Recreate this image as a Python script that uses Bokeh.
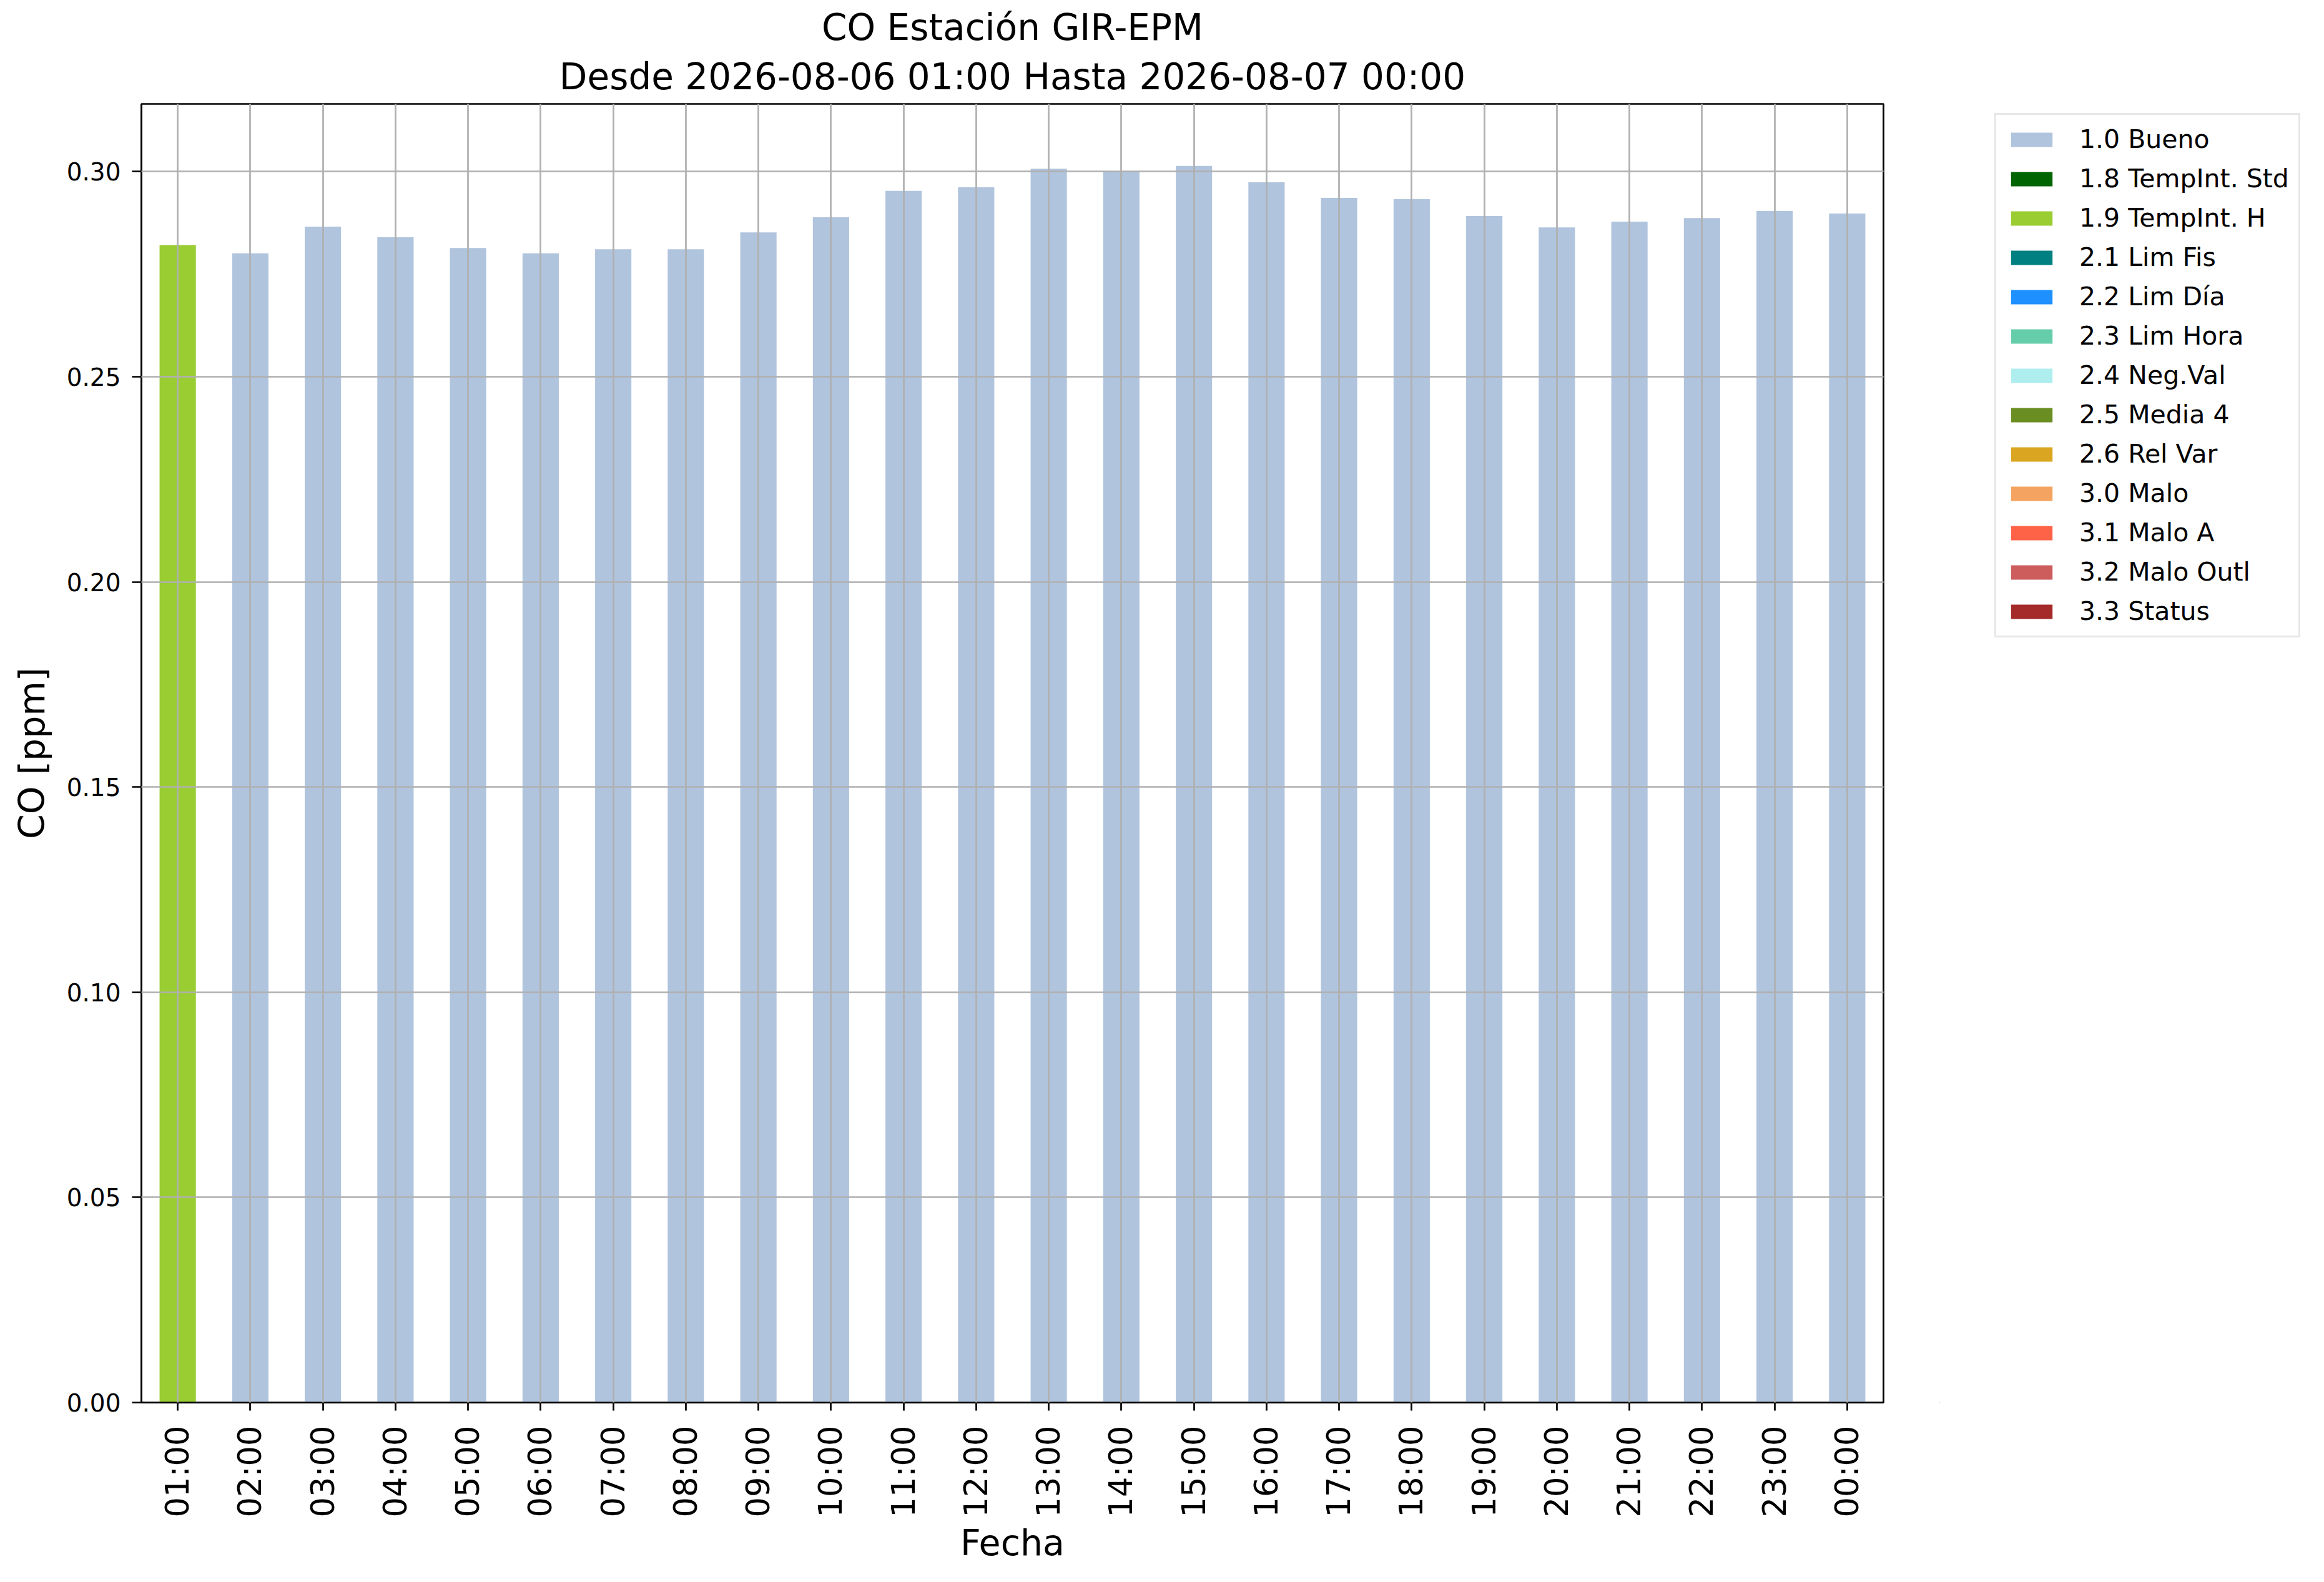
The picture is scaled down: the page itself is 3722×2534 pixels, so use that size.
from math import pi
from bokeh.plotting import figure
from bokeh.layouts import row
from bokeh.models import (FactorRange, Range1d, ColumnDataSource, Legend, LegendItem,
                          FixedTicker, PrintfTickFormatter, Title)
from bokeh.embed import file_html
from bokeh.resources import INLINE

# ---------------- data ----------------
hours = ["01:00", "02:00", "03:00", "04:00", "05:00", "06:00", "07:00", "08:00",
         "09:00", "10:00", "11:00", "12:00", "13:00", "14:00", "15:00", "16:00",
         "17:00", "18:00", "19:00", "20:00", "21:00", "22:00", "23:00", "00:00"]
co_ppm = [0.2821, 0.2801, 0.2866, 0.2840, 0.2814, 0.2801, 0.2811, 0.2811,
          0.2852, 0.2889, 0.2953, 0.2962, 0.3007, 0.3001, 0.3014, 0.2974,
          0.2936, 0.2933, 0.2892, 0.2864, 0.2878, 0.2887, 0.2904, 0.2898]
flags = ["1.9 TempInt. H"] + ["1.0 Bueno"] * 23

categories = ["1.0 Bueno", "1.8 TempInt. Std", "1.9 TempInt. H", "2.1 Lim Fis",
              "2.2 Lim Día", "2.3 Lim Hora", "2.4 Neg.Val", "2.5 Media 4",
              "2.6 Rel Var", "3.0 Malo", "3.1 Malo A", "3.2 Malo Outl", "3.3 Status"]
cat_colors = ["#b0c4de", "#006400", "#9acd32", "#008080", "#1e90ff", "#66cdaa",
              "#afeeee", "#6b8e23", "#daa520", "#f4a460", "#ff6347", "#cd5c5c", "#a52a2a"]
y_ticks = [0.0, 0.05, 0.10, 0.15, 0.20, 0.25, 0.30]

title_line1 = "CO Estación GIR-EPM"
title_line2 = "Desde 2026-08-06 01:00 Hasta 2026-08-07 00:00"

# ---------------- main figure ----------------
FONT = "DejaVu Sans"
H = 2518
W1, W2 = 3106, 600
ML, MR, MT, MB = 226, 90, 166, 272

p = figure(width=W1, height=H, x_range=FactorRange(factors=hours),
           y_range=Range1d(0, 0.3165), output_backend="svg", toolbar_location=None,
           min_border_left=ML, min_border_right=MR, min_border_top=MT, min_border_bottom=MB)
p.title.visible = False

for txt, so in ((title_line2, 19), (title_line1, 0)):
    t = Title(text=txt, align="center", text_font=FONT, text_font_size="58px",
              text_font_style="normal", text_color="black", standoff=so)
    p.add_layout(t, "above")

p.background_fill_color = "white"
p.border_fill_color = "white"
p.outline_line_color = "black"
p.outline_line_width = 2.7

for cat, col in zip(categories, cat_colors):
    xs = [h for h, f in zip(hours, flags) if f == cat]
    ys = [v for v, f in zip(co_ppm, flags) if f == cat]
    if not xs:
        continue
    src = ColumnDataSource(data=dict(x=xs, top=ys))
    p.vbar(x="x", top="top", bottom=0, width=0.5, source=src,
           fill_color=col, line_color=None)

for ax in (p.xaxis[0], p.yaxis[0]):
    ax.axis_line_color = "black"
    ax.axis_line_width = 2.7
    ax.major_tick_line_color = "black"
    ax.major_tick_line_width = 2.7
    ax.major_tick_in = 0
    ax.minor_tick_line_color = None
    ax.major_label_text_font = FONT
    ax.axis_label_text_font = FONT
    ax.axis_label_text_font_style = "normal"
    ax.axis_label_text_font_size = "57px"
    ax.major_label_text_color = "black"
    ax.axis_label_text_color = "black"

xa = p.xaxis[0]
xa.axis_label = "Fecha"
xa.major_label_orientation = pi / 2
xa.major_label_text_font_size = "51px"
xa.major_tick_out = 13
xa.major_label_standoff = 24
xa.axis_label_standoff = 5

ya = p.yaxis[0]
ya.axis_label = "CO [ppm]"
ya.ticker = FixedTicker(ticks=y_ticks)
ya.formatter = PrintfTickFormatter(format="%.2f")
ya.major_label_text_font_size = "39px"
ya.major_tick_out = 15
ya.major_label_standoff = 18
ya.axis_label_standoff = 20

for g in (p.xgrid[0], p.ygrid[0]):
    g.grid_line_color = "#b0b0b0"
    g.grid_line_width = 2.7
    g.level = "overlay"
p.ygrid[0].ticker = FixedTicker(ticks=y_ticks)

# ---------------- legend panel (second figure, no axes) ----------------
# legend proxies use the same data, positioned far outside this panel's view
p2 = figure(width=W2, height=H, x_range=Range1d(1000, 1001),
            y_range=Range1d(1000, 1001), output_backend="svg", toolbar_location=None,
            x_axis_location=None, y_axis_location=None,
            min_border_left=0, min_border_right=0, min_border_top=MT, min_border_bottom=MB)
p2.title.visible = False
p2.grid.visible = False
p2.outline_line_color = None
p2.background_fill_color = "white"
p2.border_fill_color = "white"

idx = list(range(len(hours)))
items = []
for cat, col in zip(categories, cat_colors):
    tops = [v if f == cat else float("nan") for v, f in zip(co_ppm, flags)]
    src = ColumnDataSource(data=dict(x=idx, top=tops))
    r = p2.vbar(x="x", top="top", bottom=0, width=0.5, source=src,
                fill_color=col, line_color=None)
    items.append(LegendItem(label=cat, renderers=[r]))

pad, item_h, spacing = 15, 48, 15
leg_h = 2 * pad + len(categories) * item_h + (len(categories) - 1) * spacing
legend_top, legend_left = 187, 3194
legend = Legend(
    items=items,
    location=(legend_left - W1, (H - MB) - (legend_top + leg_h)),
    orientation="vertical",
    glyph_width=83, glyph_height=29, label_height=item_h, label_standoff=35,
    spacing=spacing, padding=pad, margin=0,
    label_text_font=FONT, label_text_font_size="41px", label_text_color="black",
    border_line_color="#d0d0d0", border_line_width=3,
    background_fill_color="white", background_fill_alpha=1.0,
)
p2.add_layout(legend, "center")

layout = row(p, p2)
open("out.html", "w").write(file_html(layout, INLINE))
